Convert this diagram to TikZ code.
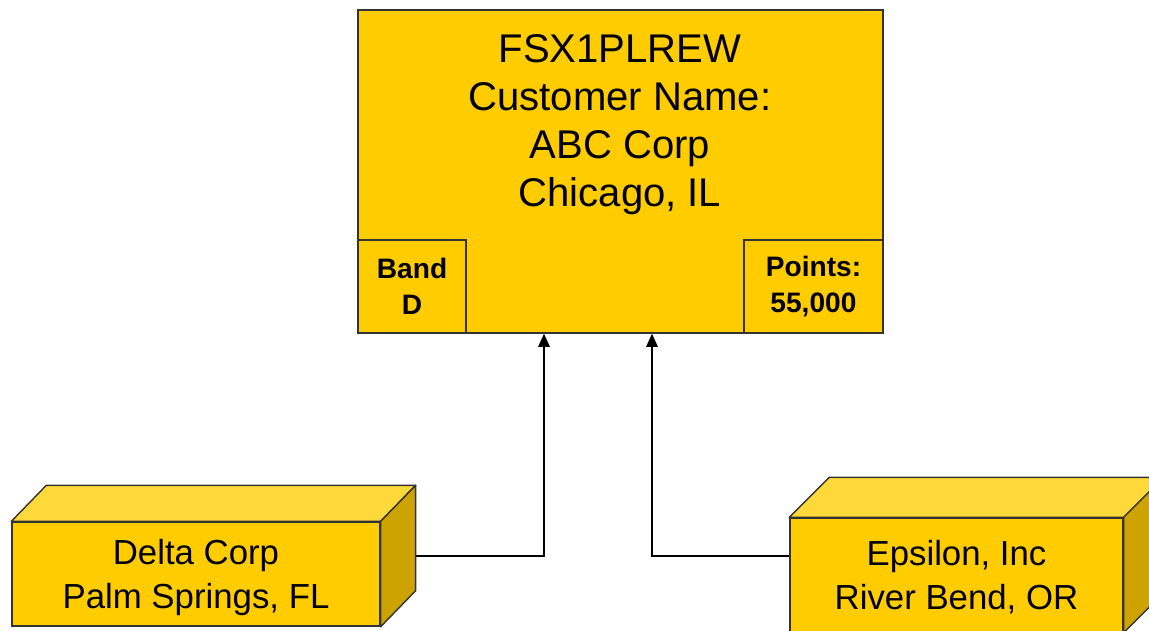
\documentclass[tikz,border=0pt]{standalone}
\usepackage{fontspec}
\setmainfont{Liberation Sans}
\usetikzlibrary{arrows.meta, positioning, calc}
\definecolor{gold}{HTML}{FFCC00}
\definecolor{goldtop}{HTML}{FFD83A}
\definecolor{goldside}{HTML}{CCA300}
\definecolor{edge}{HTML}{333333}
\tikzset{
  >={Triangle[length=7.5pt, width=6.5pt]},
  %
  card/.style={draw=edge, line width=0.8pt, fill=gold, inner sep=0pt},
  corner/.style={card, align=center, font=\fontsize{16}{20.5}\selectfont\bfseries},
  site/.style={card, align=center, font=\fontsize{19.8}{25}\selectfont},
  %
  topface/.style={draw=edge, line width=0.8pt, fill=goldtop, line join=round},
  sideface/.style={draw=edge, line width=0.8pt, fill=goldside, line join=round},
  %
  link/.style={draw=black, line width=0.9pt, ->},
}

\begin{document}
\begin{tikzpicture}[x=0.02cm, y=-0.02cm]
\useasboundingbox[fill=white] (0,0) rectangle (1149,631);
\clip (0,0) rectangle (1149,631);

% =========================================================================
% the account on top
\node[card, minimum width=10.5cm, minimum height=6.46cm] (acct) at (620.5,171.5) {};
\node[align=center, font=\fontsize{22.8}{27.3}\selectfont] (acctname) at (620,125)
  {FSX1PLREW\\Customer Name:\\ABC Corp\\Chicago, IL};
\node[corner, minimum width=2.16cm, minimum height=1.86cm, anchor=south west]
  (band) at (acct.south west) {Band\\D};
\node[corner, minimum width=2.78cm, minimum height=1.86cm, anchor=south east]
  (points) at (acct.south east) {Points:\\55,000};
\coordinate (inA) at ($(acct.south)+(-76.5,0)$);
\coordinate (inB) at ($(acct.south)+(31.5,0)$);

% =========================================================================
% the two sites below
\node[site, minimum width=7.36cm, minimum height=2.08cm, text depth=0pt] (delta) at (196,574)
  {Delta Corp\\Palm Springs, FL};
\draw[topface] (delta.north west) -- ++(35,-36) -- ($(delta.north east)+(35,-36)$)
  -- (delta.north east) -- cycle;
\draw[sideface] (delta.north east) -- ++(35,-36) -- ($(delta.south east)+(35,-36)$)
  -- (delta.south east) -- cycle;
\coordinate (deltaout) at ($(delta.east)+(35,-18)$);

\node[site, minimum width=6.66cm, minimum height=2.28cm, text depth=0pt] (epsilon) at (956.5,575)
  {Epsilon, Inc\\River Bend, OR};
\draw[topface] (epsilon.north west) -- ++(40,-40) -- ($(epsilon.north east)+(40,-40)$)
  -- (epsilon.north east) -- cycle;
\draw[sideface] (epsilon.north east) -- ++(40,-40) -- ($(epsilon.south east)+(40,-40)$)
  -- (epsilon.south east) -- cycle;
\coordinate (epsout) at ($(epsilon.west)+(0,-19)$);

% =========================================================================
\draw[link] (deltaout) -| (inA);
\draw[link] (epsout) -| (inB);

\end{tikzpicture}
\end{document}
